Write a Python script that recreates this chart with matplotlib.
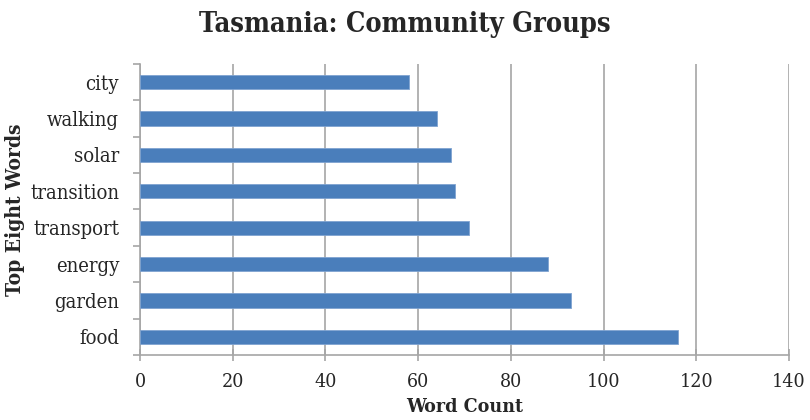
import matplotlib.pyplot as plt
import numpy as np

# top words, listed bottom to top as drawn
WORDS = ["food", "garden", "energy", "transport", "transition", "solar", "walking", "city"]
COUNTS = [116, 93, 88, 71, 68, 67, 64, 58]
X_TICKS = [0, 20, 40, 60, 80, 100, 120, 140]

BAR_COLOR = "#4A7EBB"
GRID_COLOR = "#A6A6A6"
TEXT_COLOR = "#262626"

plt.rcParams["font.family"] = ["DejaVu Serif"]

fig = plt.figure(figsize=(8.1, 4.2), dpi=100)
ax = fig.add_axes([0.1728, 0.1548, 0.8012, 0.6928])

y = np.arange(len(WORDS))
ax.barh(y, COUNTS, height=0.39, color=BAR_COLOR, edgecolor="#7FA3D1", linewidth=0.6, zorder=3)

ax.set_xlim(0, 140)
ax.set_ylim(-0.5, len(WORDS) - 0.5)
ax.set_xticks(X_TICKS)
ax.set_xticklabels([str(t) for t in X_TICKS], fontsize=14, color=TEXT_COLOR, fontstretch="condensed")
ax.set_yticks(y)
ax.set_yticklabels(WORDS, fontsize=14.5, color=TEXT_COLOR, fontstretch="condensed")
ax.set_yticks(np.arange(-0.5, len(WORDS)), minor=True)

ax.grid(axis="x", color=GRID_COLOR, linewidth=1.2, zorder=0)
for side in ["top", "right"]:
    ax.spines[side].set_visible(False)
for side in ["left", "bottom"]:
    ax.spines[side].set_color(GRID_COLOR)
    ax.spines[side].set_linewidth(1.2)

ax.tick_params(axis="y", which="major", length=0, pad=15)
ax.tick_params(axis="y", which="minor", length=5, color=GRID_COLOR, width=1.2)
ax.tick_params(axis="x", direction="inout", length=8, color=GRID_COLOR, width=1.2, pad=9)

ax.set_xlabel("Word Count", fontsize=14, fontweight="bold", fontstretch="condensed",
              color=TEXT_COLOR, labelpad=5)
ax.set_ylabel("Top Eight Words", fontsize=15, fontweight="bold", fontstretch="condensed",
              color=TEXT_COLOR, labelpad=4)
fig.suptitle("Tasmania: Community Groups", fontsize=19.5, fontweight="bold", fontstretch="condensed",
             color=TEXT_COLOR, y=0.975)

fig.savefig("out.png", dpi=100)
